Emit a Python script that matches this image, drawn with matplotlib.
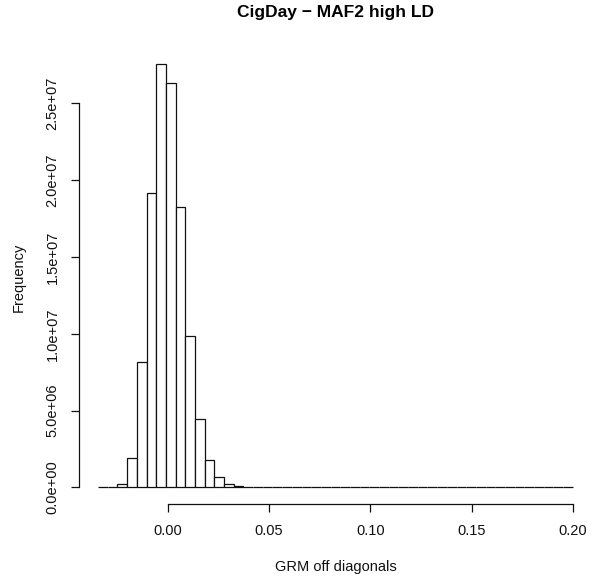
import numpy as np
import matplotlib.pyplot as plt

plt.rcParams['font.family'] = ['Liberation Sans', 'DejaVu Sans']

# histogram breaks (equal width, from min to max of the GRM off-diagonals)
break_lo = -0.0345
break_hi = 0.2
n_bins = 49

# counts per bin
counts = [
    0.003e6, 0.03e6, 0.22e6, 1.93e6, 8.18e6, 19.15e6, 27.55e6, 26.3e6,
    18.25e6, 9.88e6, 4.43e6, 1.80e6, 0.66e6, 0.22e6, 0.09e6, 0.04e6,
    0.02e6, 0.01e6, 0.005e6, 0.003e6, 0.002e6, 0.001e6,
] + [0] * 27

x_ticks = [0.00, 0.05, 0.10, 0.15, 0.20]
y_ticks = [0, 5e6, 1e7, 1.5e7, 2e7, 2.5e7]

edges = np.linspace(break_lo, break_hi, n_bins + 1)

fig = plt.figure(figsize=(5.95, 5.81), dpi=100)
W, H = 595, 581
# plot region in pixels (R style, axes drawn outside the bars)
left, right, top, bottom = 79.1, 591.8, 49.6, 504.3
ax = fig.add_axes([left / W, 1 - bottom / H, (right - left) / W, (bottom - top) / H])

ax.bar(edges[:-1], counts, width=np.diff(edges), align='edge',
       color='white', edgecolor='#111111', linewidth=0.9)

ax.set_xlim(-0.0439, 0.2094)
ax.set_ylim(-1.1e6, 28.5e6)

for s in ['top', 'right']:
    ax.spines[s].set_visible(False)
ax.spines['left'].set_bounds(0, 2.5e7)
ax.spines['bottom'].set_bounds(0, 0.2)
for s in ['left', 'bottom']:
    ax.spines[s].set_linewidth(0.9)
    ax.spines[s].set_color('#111111')

ax.set_xticks(x_ticks)
ax.set_xticklabels(['%.2f' % v for v in x_ticks])
ax.set_yticks(y_ticks)
ax.set_yticklabels(['%.1e' % v for v in y_ticks], rotation=90, va='center')
ax.tick_params(axis='both', length=6, width=0.9, labelsize=10.5, pad=8,
               color='#111111', labelcolor='#111111')

ax.set_xlabel('GRM off diagonals', fontsize=10.5, color='#111111')
ax.set_ylabel('Frequency', fontsize=10.5, color='#111111')
ax.xaxis.set_label_coords(0.5, -0.1225)
ax.yaxis.set_label_coords(-0.1036, 0.5)

ax.text(0.5, 1.0805, 'CigDay \u2212 MAF2 high LD', transform=ax.transAxes,
        ha='center', va='center', fontsize=12.5, fontweight='bold')

fig.savefig('out.png', dpi=100)
